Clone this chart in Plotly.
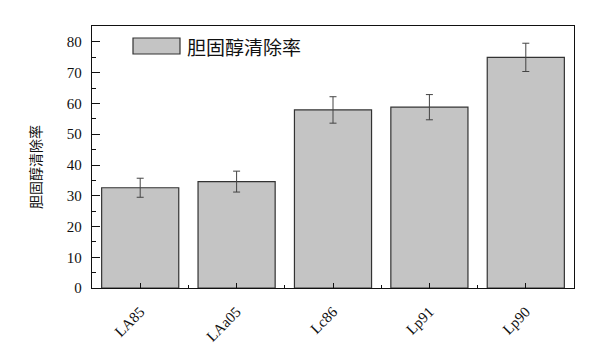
import plotly.graph_objects as go

categories = ["LA85", "LAa05", "Lc86", "Lp91", "Lp90"]
values = [32.6, 34.6, 57.9, 58.8, 75.0]
errors = [3.1, 3.4, 4.3, 4.1, 4.6]
series_name = "胆固醇清除率"
y_title = "胆固醇清除率"

xpos = list(range(len(categories)))

fig = go.Figure()
fig.add_trace(go.Bar(
    x=xpos, y=values, width=0.8,
    marker=dict(color="#c4c4c4", line=dict(color="#333333", width=1.2)),
    error_y=dict(type="data", array=errors, visible=True, color="#444444",
                 thickness=1, width=3.5),
    showlegend=False, name=series_name,
))

serif = "Liberation Serif, Times New Roman, serif"
fig.update_layout(
    width=602, height=344,
    margin=dict(l=92, r=28, t=26, b=56),
    paper_bgcolor="white", plot_bgcolor="white",
    font=dict(family=serif, color="#111111", size=15),
    xaxis=dict(
        range=[-0.5, 4.5], tickmode="array", tickvals=xpos, ticktext=categories,
        ticks="inside", ticklen=5, tickwidth=1.2, tickcolor="#111",
        tickangle=-45, tickfont=dict(family=serif, size=15), ticklabelstandoff=8,
        showline=True, linecolor="#111", linewidth=1.4, mirror=True,
        showgrid=False, zeroline=False, automargin=False,
        minor=dict(tickmode="array", tickvals=[0.5, 1.5, 2.5, 3.5], ticks="inside",
                   ticklen=3, tickwidth=1, tickcolor="#111"),
    ),
    yaxis=dict(
        range=[0, 85.2], tickmode="linear", tick0=0, dtick=10,
        ticks="inside", ticklen=8, tickwidth=1.2, tickcolor="#111",
        tickfont=dict(family=serif, size=15), ticklabelstandoff=6,
        showline=True, linecolor="#111", linewidth=1.4, mirror=True,
        showgrid=False, zeroline=False, automargin=False,
        minor=dict(dtick=5, ticks="inside", ticklen=4, tickwidth=1, tickcolor="#111"),
    ),
    shapes=[dict(type="rect", xref="paper", yref="paper",
                 x0=(133 - 92) / 482, x1=(180 - 92) / 482,
                 y0=(288 - 54) / 262, y1=(288 - 38) / 262,
                 fillcolor="#c4c4c4", line=dict(color="#333333", width=1.2))],
    annotations=[
        dict(text=series_name, xref="paper", yref="paper",
             x=(185 - 92) / 482, y=(288 - 46) / 262, xanchor="left", yanchor="middle",
             showarrow=False, font=dict(family="Noto Sans CJK SC", size=19, color="#111")),
        dict(text=y_title, xref="paper", yref="paper",
             x=(35 - 92) / 482, y=(288 - 167) / 262, xanchor="center", yanchor="middle",
             textangle=-90, showarrow=False,
             font=dict(family="Noto Sans CJK SC", size=14, color="#111")),
    ],
)

fig.write_html("out.html")
